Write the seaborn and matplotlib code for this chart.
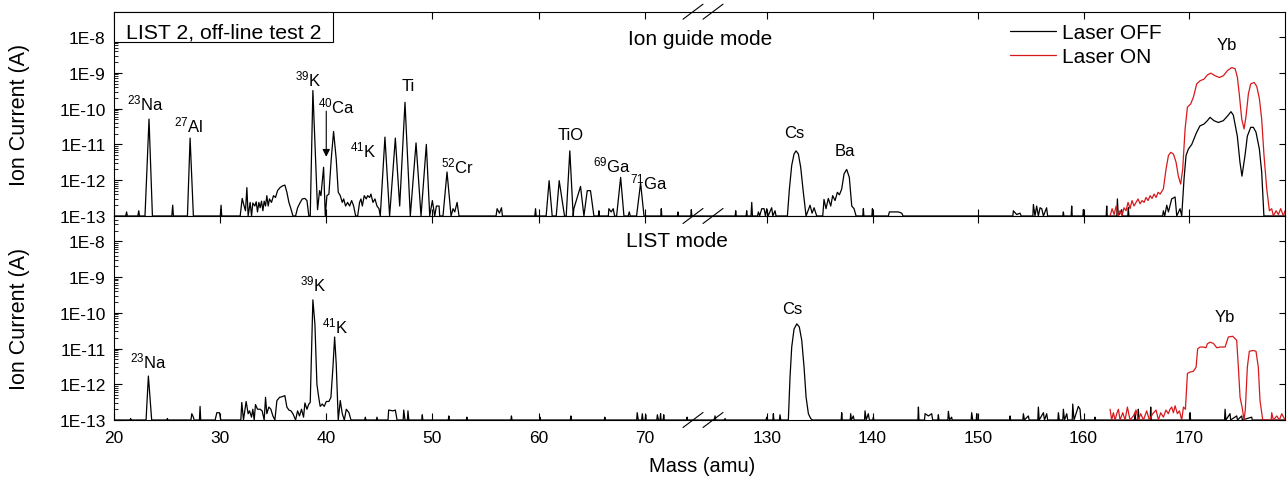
import numpy as np
import pandas as pd
import matplotlib
matplotlib.use("Agg")
import matplotlib.pyplot as plt
import seaborn as sns
from matplotlib.ticker import LogLocator, NullFormatter, NullLocator, FixedLocator, FuncFormatter
from matplotlib.lines import Line2D
from matplotlib.patches import Rectangle

# ---------------- data (mass in amu, ion current in A) ----------------
guide_off = [
    (20.0, 1e-13), (21.1, 1e-13), (21.19, 1.3e-13), (21.25, 1e-13),
    (22.25, 1e-13), (22.33, 1.4e-13), (22.4, 1e-13),
    (22.92, 1e-13), (23.30, 5.1e-11), (23.62, 1e-13),
    (25.45, 1e-13), (25.53, 2.0e-13), (25.6, 1e-13),
    (26.92, 1e-13), (27.17, 1.5e-11), (27.48, 1e-13),
    (30.02, 1e-13), (30.09, 2.0e-13), (30.15, 1e-13),
    (31.89, 1e-13), (32.08, 3.1e-13), (32.26, 1.9e-13), (32.39, 1.4e-13), (32.52, 6.2e-13),
    (32.64, 1e-13), (32.83, 2.4e-13), (32.96, 1e-13), (33.08, 2.3e-13), (33.27, 1.9e-13),
    (33.40, 2.5e-13), (33.52, 1.3e-13), (33.65, 2.4e-13), (33.77, 1.7e-13), (33.90, 2.6e-13),
    (34.03, 1.4e-13), (34.15, 2.6e-13), (34.28, 1.9e-13), (34.40, 3.7e-13), (34.53, 1.9e-13),
    (34.65, 3.0e-13), (34.84, 2.4e-13), (35.03, 3.7e-13), (35.22, 3.3e-13), (35.41, 5.1e-13),
    (35.66, 6.3e-13), (35.91, 7.0e-13), (36.10, 7.3e-13), (36.29, 4.6e-13), (36.48, 2.4e-13),
    (36.67, 1.6e-13), (36.86, 1e-13), (37.11, 1e-13), (37.30, 1.7e-13), (37.55, 2.4e-13),
    (37.74, 3.0e-13), (37.99, 3.1e-13), (38.18, 2.7e-13), (38.36, 1e-13), (38.49, 1e-13),
    (38.74, 3.2e-10), (39.18, 1.5e-13), (39.37, 5.1e-13), (39.50, 3.7e-13), (39.62, 8.7e-13),
    (39.75, 2.3e-12), (39.91, 1e-13), (40.06, 3.7e-13), (40.25, 4.1e-13), (40.47, 3.9e-12),
    (40.69, 2.3e-11), (40.94, 3.9e-12), (41.13, 4.6e-13), (41.32, 3.7e-13), (41.51, 2.4e-13),
    (41.64, 3.0e-13), (41.82, 1.9e-13), (42.01, 2.4e-13), (42.20, 1.9e-13), (42.39, 2.7e-13),
    (42.58, 1.9e-13), (42.77, 1e-13), (42.96, 1e-13), (43.14, 2.4e-13), (43.27, 3.0e-13),
    (43.40, 1.9e-13), (43.58, 3.7e-13), (43.77, 3.0e-13), (43.90, 3.7e-13), (44.09, 3.3e-13),
    (44.21, 4.1e-13), (44.40, 2.4e-13), (44.59, 3.0e-13), (44.78, 1.9e-13), (44.97, 1.6e-13),
    (45.09, 1e-13), (45.53, 1.6e-11), (45.97, 1e-13), (46.51, 1.5e-11), (46.92, 1.9e-13),
    (47.42, 1.5e-10), (47.92, 1e-13), (48.46, 1.1e-11), (48.93, 1e-13), (49.43, 1.0e-11),
    (49.75, 1e-13), (50.0, 2.7e-13), (50.22, 1e-13), (50.38, 1.9e-13), (50.63, 1.9e-13),
    (50.69, 1e-13), (51.0, 1e-13), (51.38, 1.7e-12), (51.76, 1e-13), (51.95, 1.6e-13),
    (52.11, 1.3e-13), (52.33, 2.4e-13), (52.51, 1e-13),
    (56.0, 1e-13), (56.10, 1.6e-13), (56.32, 1.2e-13), (56.51, 1.7e-13), (56.6, 1e-13),
    (59.65, 1e-13), (59.72, 1.6e-13), (59.78, 1e-13),
    (60.72, 1e-13), (61.0, 9.7e-13), (61.29, 1e-13), (61.67, 1e-13), (61.95, 9.7e-13),
    (62.45, 1e-13), (62.61, 1e-13), (62.95, 6.6e-12), (63.27, 1e-13), (63.33, 1.6e-13),
    (63.96, 6.7e-13), (64.28, 1e-13), (64.59, 5.1e-13), (64.90, 5.1e-13), (65.22, 1e-13),
    (65.64, 1e-13), (65.69, 1.4e-13), (65.74, 1e-13),
    (66.58, 1e-13), (66.63, 1.6e-13), (66.85, 1.3e-13), (67.04, 1.6e-13), (67.17, 1e-13),
    (67.36, 1e-13), (67.74, 1.2e-12), (68.05, 1e-13), (68.45, 1e-13), (68.55, 1.3e-13),
    (68.65, 1e-13), (69.24, 1e-13), (69.62, 8.4e-13), (69.94, 1e-13),
    (71.52, 1e-13), (71.57, 1.6e-13), (71.62, 1e-13),
    (73.09, 1e-13), (73.14, 1.3e-13), (73.19, 1e-13),
    (74.35, 1e-13), (74.40, 1.5e-13), (74.45, 1e-13),
    (126.98, 1e-13), (127.03, 1.4e-13), (127.08, 1e-13),
    (128.02, 1e-13), (128.07, 1.4e-13), (128.12, 1e-13), (128.48, 1e-13), (128.55, 2.4e-13),
    (128.62, 1e-13), (129.1, 1e-13), (129.18, 1.3e-13), (129.3, 1e-13), (129.5, 1.6e-13),
    (129.72, 1.6e-13), (129.85, 1e-13), (129.97, 1.6e-13), (130.1, 1e-13), (130.44, 1.7e-13),
    (130.55, 1e-13), (130.76, 1.4e-13), (130.85, 1e-13),
    (131.93, 1e-13), (132.12, 5.7e-13), (132.34, 2.6e-12), (132.56, 5.4e-12), (132.75, 6.6e-12),
    (132.97, 5.4e-12), (133.19, 2.3e-12), (133.44, 4.6e-13), (133.70, 1e-13),
    (134.08, 2.0e-13), (134.27, 1.2e-13), (134.46, 1.7e-13), (134.71, 1e-13),
    (135.28, 1e-13), (135.40, 2.9e-13), (135.59, 1.6e-13), (135.81, 3.1e-13), (136.04, 1.9e-13),
    (136.22, 3.7e-13), (136.45, 2.7e-13), (136.67, 4.6e-13), (136.86, 3.9e-13), (137.08, 5.7e-13),
    (137.30, 1.5e-12), (137.55, 2.0e-12), (137.80, 1.2e-12), (138.03, 1.9e-13), (138.25, 1.6e-13),
    (138.44, 1e-13),
    (139.08, 1e-13), (139.13, 1.6e-13), (139.18, 1e-13),
    (139.94, 1e-13), (139.99, 1.6e-13), (140.04, 1e-13),
    (141.5, 1e-13), (141.6, 1.3e-13), (141.98, 1.3e-13), (142.45, 1.3e-13), (142.77, 1.2e-13),
    (142.9, 1e-13),
    (153.3, 1e-13), (153.35, 1.4e-13), (153.67, 1.1e-13), (153.98, 1.2e-13), (154.1, 1e-13),
    (155.2, 1e-13), (155.25, 2.1e-13), (155.4, 1e-13), (155.56, 1.9e-13), (155.72, 1e-13),
    (155.88, 1.7e-13), (156.04, 1.6e-13), (156.2, 1e-13), (156.5, 1.7e-13), (156.6, 1e-13),
    (158.04, 1e-13), (158.09, 1.3e-13), (158.14, 1e-13), (158.83, 1e-13), (158.88, 1.9e-13),
    (158.93, 1e-13), (159.94, 1e-13), (159.99, 1.5e-13), (160.04, 1e-13),
    (162.15, 1e-13), (162.2, 1.9e-13), (162.25, 1e-13),
    (163.16, 1e-13), (163.21, 3.0e-13), (163.3, 1e-13), (163.62, 1.5e-13), (163.7, 1e-13),
    (164.2, 1e-13), (164.25, 1.7e-13), (164.3, 1e-13),
    (167.5, 1e-13), (167.57, 1.4e-13), (167.7, 1e-13), (167.89, 2.0e-13), (168.05, 1.3e-13),
    (168.36, 3.0e-13), (168.68, 3.4e-13), (168.84, 1e-13), (169.15, 1.6e-13), (169.31, 1e-13),
    (169.53, 1.1e-12), (169.72, 4.9e-12), (169.94, 7.4e-12), (170.26, 1.0e-11), (170.73, 2.2e-11),
    (171.04, 3.3e-11), (171.42, 3.7e-11), (171.74, 4.6e-11), (171.99, 5.7e-11), (172.37, 4.6e-11),
    (172.78, 4.1e-11), (173.25, 4.6e-11), (173.63, 6.1e-11), (173.98, 8.2e-11), (174.2, 6.6e-11),
    (174.58, 1.7e-11), (174.83, 3.2e-12), (175.02, 1.3e-12), (175.31, 4.9e-12), (175.53, 1.7e-11),
    (175.85, 3.0e-11), (176.1, 3.0e-11), (176.35, 2.2e-11), (176.67, 7.4e-12), (176.89, 1.7e-12),
    (177.1, 1e-13), (179.1, 1e-13),
]

guide_on = [
    (162.52, 1e-13), (162.71, 1.6e-13), (162.9, 1.1e-13), (163.09, 1.9e-13), (163.27, 1e-13),
    (163.46, 1.4e-13), (163.65, 1e-13), (163.84, 1.7e-13), (164.03, 1.4e-13), (164.22, 2.4e-13),
    (164.41, 1.6e-13), (164.6, 2.7e-13), (164.79, 1.9e-13), (164.98, 2.4e-13), (165.17, 3.0e-13),
    (165.36, 2.2e-13), (165.55, 2.7e-13), (165.74, 2.4e-13), (165.93, 3.3e-13), (166.12, 2.7e-13),
    (166.31, 3.7e-13), (166.5, 3.1e-13), (166.69, 4.1e-13), (166.88, 3.3e-13), (167.07, 4.6e-13),
    (167.26, 4.1e-13), (167.57, 5.7e-13), (167.82, 2.0e-12), (168.05, 4.9e-12), (168.27, 6.0e-12),
    (168.52, 5.4e-12), (168.77, 3.2e-12), (168.99, 1.3e-12), (169.21, 7.8e-13), (169.4, 2.0e-12),
    (169.63, 2.7e-11), (169.85, 1.1e-10), (170.16, 1.35e-10), (170.42, 2.1e-10), (170.73, 4.9e-10),
    (171.05, 6.0e-10), (171.43, 6.7e-10), (171.74, 8.7e-10), (172.06, 9.8e-10), (172.47, 8.3e-10),
    (172.88, 7.4e-10), (173.26, 8.3e-10), (173.64, 1.15e-9), (174.05, 1.4e-9), (174.37, 1.3e-9),
    (174.59, 7.4e-10), (174.78, 2.3e-10), (175.0, 5.1e-11), (175.22, 2.7e-11), (175.41, 6.3e-11),
    (175.63, 2.6e-10), (175.85, 4.9e-10), (176.17, 5.4e-10), (176.42, 4.2e-10), (176.67, 1.9e-10),
    (176.89, 5.1e-11), (177.11, 4.9e-12), (177.37, 5.7e-13), (177.62, 1.4e-13), (177.84, 1.6e-13),
    (178.0, 1e-13), (178.25, 1.4e-13), (178.47, 1.1e-13), (178.69, 1.6e-13), (178.95, 1e-13),
    (179.1, 1.4e-13),
]

list_off = [
    (20.0, 1e-13), (21.5, 1e-13), (21.57, 1.1e-13), (21.64, 1e-13),
    (23.02, 1e-13), (23.24, 1.7e-12), (23.55, 1e-13),
    (24.98, 1e-13), (25.03, 1.1e-13), (25.08, 1e-13),
    (27.25, 1e-13), (27.33, 1.5e-13), (27.48, 1.2e-13), (27.55, 1e-13),
    (28.05, 1e-13), (28.11, 2.4e-13), (28.17, 1e-13),
    (29.53, 1e-13), (29.69, 1.6e-13), (29.94, 1.6e-13), (30.06, 1e-13),
    (31.95, 1e-13), (32.04, 3.1e-13), (32.2, 1e-13), (32.45, 3.3e-13), (32.64, 1.5e-13),
    (32.77, 1.8e-13), (32.96, 1.2e-13), (33.08, 2.0e-13), (33.21, 1e-13), (33.33, 2.7e-13),
    (33.52, 2.0e-13), (33.77, 2.0e-13), (33.96, 1.8e-13), (34.15, 1e-13), (34.28, 4.3e-13),
    (34.40, 1.5e-13), (34.59, 2.3e-13), (34.78, 2.0e-13), (34.97, 1.3e-13), (35.16, 1e-13),
    (35.35, 3.5e-13), (35.60, 4.3e-13), (35.85, 4.5e-13), (36.10, 4.8e-13), (36.29, 2.3e-13),
    (36.48, 1.9e-13), (36.67, 1.8e-13), (36.86, 1.5e-13), (37.11, 1e-13), (37.30, 1.8e-13),
    (37.48, 1.3e-13), (37.67, 2.0e-13), (37.86, 1.2e-13), (37.99, 3.0e-13), (38.18, 2.0e-13),
    (38.36, 2.8e-13), (38.49, 3.1e-13), (38.74, 2.3e-10), (38.93, 4.9e-11), (39.12, 1.0e-12),
    (39.31, 3.9e-13), (39.43, 2.4e-13), (39.62, 2.8e-13), (39.81, 2.4e-13), (40.0, 3.3e-13),
    (40.25, 3.3e-13), (40.44, 4.3e-13), (40.63, 3.0e-12), (40.79, 2.1e-11), (40.94, 3.7e-12),
    (41.13, 1e-13), (41.32, 3.5e-13), (41.51, 1.5e-13), (41.70, 1e-13), (41.89, 2.0e-13),
    (42.14, 1.6e-13), (42.33, 1e-13),
    (43.62, 1e-13), (43.68, 1.2e-13), (43.74, 1e-13),
    (44.72, 1e-13), (44.78, 1.2e-13), (44.84, 1e-13),
    (45.82, 1e-13), (45.88, 1.9e-13), (46.29, 1.8e-13), (46.51, 1.9e-13), (46.67, 1e-13),
    (47.25, 1e-13), (47.30, 1.9e-13), (47.42, 1e-13), (47.65, 1e-13), (47.70, 1.8e-13),
    (47.78, 1e-13),
    (49.0, 1e-13), (49.05, 1.4e-13), (49.1, 1e-13), (51.5, 1e-13), (51.55, 1.3e-13),
    (51.6, 1e-13), (53.2, 1e-13), (53.25, 1.2e-13), (53.3, 1e-13), (57.4, 1e-13),
    (57.45, 1.3e-13), (57.5, 1e-13), (60.1, 1e-13), (60.15, 1.2e-13), (60.2, 1e-13),
    (63.0, 1e-13), (63.05, 1.3e-13), (63.1, 1e-13), (66.2, 1e-13), (66.25, 1.2e-13),
    (66.3, 1e-13),
    (69.25, 1e-13), (69.3, 1.6e-13), (69.4, 1e-13), (69.72, 1e-13), (69.78, 1.5e-13),
    (69.85, 1e-13), (70.05, 1e-13), (70.1, 1.4e-13), (70.15, 1e-13), (71.15, 1e-13),
    (71.2, 1.4e-13), (71.3, 1e-13), (71.45, 1e-13), (71.5, 1.5e-13), (71.55, 1e-13),
    (71.75, 1e-13), (71.8, 1.4e-13), (71.85, 1e-13), (73.95, 1e-13), (74.0, 1.2e-13),
    (74.05, 1e-13),
    (125.0, 1e-13), (125.07, 1.3e-13), (125.14, 1e-13), (125.95, 1e-13), (126.02, 1.1e-13),
    (126.1, 1e-13), (129.9, 1e-13), (129.97, 1.2e-13), (130.04, 1e-13), (130.55, 1e-13),
    (130.6, 1.5e-13), (130.65, 1e-13), (131.18, 1e-13), (131.23, 1.4e-13), (131.3, 1e-13),
    (132.02, 1e-13), (132.18, 1.6e-12), (132.34, 1.1e-11), (132.56, 3.5e-11), (132.82, 4.9e-11),
    (133.06, 4.0e-11), (133.29, 1.7e-11), (133.51, 3.0e-12), (133.70, 4.4e-13), (133.92, 1.5e-13),
    (134.14, 1.1e-13), (134.3, 1e-13),
    (137.03, 1e-13), (137.08, 1.6e-13), (137.13, 1e-13), (137.88, 1e-13), (137.93, 1.5e-13),
    (138.0, 1e-13), (138.18, 1.3e-13), (138.25, 1e-13), (139.24, 1e-13), (139.29, 1.8e-13),
    (139.4, 1e-13), (139.6, 1.5e-13), (139.7, 1e-13), (140.03, 1e-13), (140.08, 1.2e-13),
    (140.13, 1e-13),
    (144.3, 1e-13), (144.35, 2.3e-13), (144.4, 1e-13), (144.93, 1e-13), (144.98, 1.5e-13),
    (145.3, 1.3e-13), (145.61, 1.5e-13), (145.7, 1e-13), (146.19, 1e-13), (146.24, 1.4e-13),
    (146.3, 1e-13), (147.14, 1e-13), (147.19, 1.75e-13), (147.3, 1e-13), (147.5, 1.2e-13),
    (147.55, 1e-13), (149.35, 1e-13), (149.4, 1.6e-13), (149.5, 1e-13), (149.83, 1e-13),
    (149.88, 1.5e-13), (149.93, 1e-13),
    (152.99, 1e-13), (153.04, 1.3e-13), (153.09, 1e-13), (154.25, 1e-13), (154.3, 1.5e-13),
    (154.4, 1e-13), (154.77, 1.3e-13), (154.85, 1e-13), (155.67, 1e-13), (155.72, 2.3e-13),
    (155.8, 1e-13), (156.2, 1.6e-13), (156.3, 1e-13), (156.51, 1.5e-13), (156.6, 1e-13),
    (157.57, 1e-13), (157.62, 1.6e-13), (157.7, 1e-13), (158.04, 1e-13), (158.09, 2.0e-13),
    (158.2, 1e-13), (158.41, 1.5e-13), (158.5, 1e-13), (158.93, 1e-13), (158.98, 2.8e-13),
    (159.1, 1e-13), (159.51, 2.4e-13), (159.67, 2.0e-13), (159.75, 1e-13), (161.04, 1e-13),
    (161.09, 1.2e-13), (161.14, 1e-13),
    (164.83, 1e-13), (164.88, 1.6e-13), (164.95, 1e-13), (165.15, 1e-13), (165.2, 2.0e-13),
    (165.25, 1e-13), (166.32, 1e-13), (166.37, 2.3e-13), (166.42, 1e-13), (170.05, 1e-13),
    (170.1, 1.6e-13), (170.15, 1e-13), (173.37, 1e-13), (173.42, 2.0e-13), (173.5, 1e-13),
    (173.89, 1.5e-13), (173.95, 1e-13), (174.52, 1.3e-13), (174.6, 1e-13), (175.0, 1.3e-13),
    (175.05, 1e-13), (175.94, 1.2e-13), (176.0, 1e-13), (179.1, 1e-13),
]

list_on = [
    (162.52, 2.0e-13), (162.67, 1e-13), (162.83, 1.6e-13), (162.99, 1e-13), (163.15, 1.5e-13),
    (163.31, 2.0e-13), (163.46, 1e-13), (163.72, 1.6e-13), (163.94, 1e-13), (164.16, 2.3e-13),
    (164.41, 1e-13), (164.73, 1.3e-13), (164.98, 1.9e-13), (165.2, 1e-13), (165.42, 1.5e-13),
    (165.68, 1e-13), (165.99, 1.8e-13), (166.24, 1e-13), (166.56, 1.5e-13), (166.88, 1.9e-13),
    (167.1, 1e-13), (167.32, 1.6e-13), (167.57, 1.2e-13), (167.82, 1.9e-13), (168.04, 1.5e-13),
    (168.2, 2.0e-13), (168.36, 2.3e-13), (168.52, 1.6e-13), (168.68, 2.5e-13), (168.9, 1.5e-13),
    (169.09, 1.8e-13), (169.31, 1e-13), (169.47, 2.3e-13), (169.66, 2.0e-13), (169.85, 2.0e-12),
    (170.1, 2.2e-12), (170.41, 2.3e-12), (170.67, 3.0e-12), (170.82, 9.8e-12), (171.05, 1.1e-11),
    (171.36, 1.1e-11), (171.61, 1.05e-11), (171.74, 1.35e-11), (171.99, 1.5e-11), (172.31, 1.4e-11),
    (172.63, 1.05e-11), (172.94, 1.1e-11), (173.42, 1.1e-11), (173.73, 2.1e-11), (174.14, 2.2e-11),
    (174.52, 1.7e-11), (174.68, 3.0e-12), (174.84, 4.3e-13), (175.03, 2.3e-13), (175.22, 1e-13),
    (175.34, 2.0e-13), (175.53, 3.0e-12), (175.72, 8.4e-12), (176.1, 8.8e-12), (176.35, 8.4e-12),
    (176.57, 3.0e-12), (176.73, 3.5e-13), (176.99, 1e-13), (177.79, 1e-13), (177.84, 1.6e-13),
    (178.0, 1e-13), (178.32, 1.3e-13), (178.57, 1e-13), (178.79, 1.5e-13), (179.1, 1e-13),
]

left_ticks = [20, 30, 40, 50, 60, 70]
right_ticks = [130, 140, 150, 160, 170]
left_range = (20.0, 75.5)
right_range = (123.93, 179.1)
y_range = (1e-13, 5.1e-8)
y_ticks = [1e-13, 1e-12, 1e-11, 1e-10, 1e-9, 1e-8]
series_labels = ["Laser OFF", "Laser ON"]

guide_labels_left = [
    ("$^{23}$Na", 23.0, 1.5e-10), ("$^{27}$Al", 27.0, 3.7e-11), ("$^{39}$K", 38.3, 7.1e-10),
    ("$^{40}$Ca", 41.0, 1.2e-10), ("$^{41}$K", 43.5, 7.4e-12), ("Ti", 47.7, 4.3e-10),
    ("$^{52}$Cr", 52.4, 2.6e-12), ("TiO", 63.0, 1.95e-11), ("$^{69}$Ga", 66.9, 2.8e-12),
    ("$^{71}$Ga", 70.4, 9.5e-13),
]
guide_labels_right = [("Cs", 132.56, 2.2e-11), ("Ba", 137.4, 6.6e-12), ("Yb", 173.6, 6.0e-9)]
list_labels_left = [("$^{23}$Na", 23.2, 4.6e-12), ("$^{39}$K", 38.8, 6.5e-10), ("$^{41}$K", 40.85, 4.3e-11)]
list_labels_right = [("Cs", 132.4, 1.3e-10), ("Yb", 173.4, 7.8e-11)]

# ---------------- style ----------------
sns.set_style("ticks")
plt.rcParams["font.family"] = ["Liberation Sans", "DejaVu Sans"]
plt.rcParams["mathtext.fontset"] = "custom"
plt.rcParams["mathtext.rm"] = "Liberation Sans"
plt.rcParams["mathtext.default"] = "regular"
for key in ("text.color", "axes.labelcolor", "xtick.color", "ytick.color", "axes.edgecolor"):
    plt.rcParams[key] = "black"

RED = "#d7191c"
W, H = 1287, 481
fig = plt.figure(figsize=(W / 100, H / 100), dpi=100)


def fx(px):
    return px / W


def fy(py):
    return 1 - py / H


X0, XS, X1 = 114, 703, 1285
ROWS = [(12.7, 217.0), (217.0, 421.0)]


def draw(ax, pts, color):
    df = pd.DataFrame(pts, columns=["mass", "current"])
    sns.lineplot(data=df, x="mass", y="current", ax=ax, color=color, linewidth=0.9,
                 estimator=None, sort=False, legend=False)


def style_axis(ax, side, bottom_labels):
    ax.set_yscale("log")
    ax.set_ylim(*y_range)
    ax.set_xlabel("")
    ax.set_ylabel("")
    for s in ax.spines.values():
        s.set_linewidth(0.8)
        s.set_color("black")
    ax.tick_params(axis="x", which="both", direction="in", top=True, bottom=True,
                   length=5, width=0.8, labelsize=12.5, pad=7, labelbottom=bottom_labels,
                   colors="black")
    ax.yaxis.set_major_locator(FixedLocator(y_ticks))
    if side == "left":
        ax.spines["right"].set_visible(False)
        ax.set_xlim(*left_range)
        ax.set_xticks(left_ticks)
        ax.yaxis.set_minor_locator(LogLocator(base=10, subs=np.arange(2, 10)))
        ax.yaxis.set_minor_formatter(NullFormatter())
        ax.yaxis.set_major_formatter(FuncFormatter(lambda v, p: f"1E{int(round(np.log10(v)))}"))
        ax.tick_params(axis="y", which="major", direction="in", left=True, right=False,
                       length=6, width=0.8, labelsize=12.5, pad=6, colors="black")
        ax.tick_params(axis="y", which="minor", direction="in", left=True, right=False,
                       length=3, width=0.6, colors="black")
    else:
        ax.spines["left"].set_visible(False)
        ax.set_xlim(*right_range)
        ax.set_xticks(right_ticks)
        ax.yaxis.set_minor_locator(NullLocator())
        ax.yaxis.set_ticks_position("right")
        ax.tick_params(axis="y", which="major", direction="in", left=False, right=True,
                       labelleft=False, labelright=False, length=4, width=0.8, colors="black")


axes = {}
for r, (ytop, ybot) in enumerate(ROWS):
    h = (ybot - ytop) / H
    axl = fig.add_axes([fx(X0), fy(ybot), (XS - X0) / W, h])
    axr = fig.add_axes([fx(XS), fy(ybot), (X1 - XS) / W, h])
    axes[r] = (axl, axr)

for r, (off, on) in enumerate([(guide_off, guide_on), (list_off, list_on)]):
    axl, axr = axes[r]
    for ax in (axl, axr):
        draw(ax, off, "black")
        draw(ax, on, RED)
    style_axis(axl, "left", r == 1)
    style_axis(axr, "right", r == 1)

# peak labels
for (axl, axr), (ll, rl) in zip([axes[0], axes[1]],
                                [(guide_labels_left, guide_labels_right),
                                 (list_labels_left, list_labels_right)]):
    for t, m, v in ll:
        axl.text(m, v, t, ha="center", va="center", fontsize=12, color="black")
    for t, m, v in rl:
        axr.text(m, v, t, ha="center", va="center", fontsize=12, color="black")

axes[0][0].annotate("", xy=(40.0, 4.5e-12), xytext=(40.0, 8.5e-11),
                    arrowprops=dict(arrowstyle="-|>", color="black", lw=0.8,
                                    mutation_scale=11, shrinkA=0, shrinkB=0))

# axis break marks
for py in (12.7, 217.0, 421.0):
    for x0 in (683, 703):
        fig.add_artist(Line2D([fx(x0), fx(x0 + 20)], [fy(py + 7.5), fy(py - 7.5)],
                              color="black", lw=0.8))

# titles & labels
fig.add_artist(Rectangle((fx(114), fy(43)), 219 / W, 30.3 / H, transform=fig.transFigure,
                         facecolor="white", edgecolor="black", lw=0.8, zorder=5))
fig.text(fx(224), fy(38.5), "LIST 2, off-line test 2", ha="center", va="baseline",
         fontsize=15.3, zorder=6, color="black")
fig.text(fx(700), fy(45), "Ion guide mode", ha="center", va="baseline", fontsize=15, color="black")
fig.text(fx(677), fy(247), "LIST mode", ha="center", va="baseline", fontsize=15, color="black")
for ytop, ybot in ROWS:
    fig.text(fx(20), fy((ytop + ybot) / 2), "Ion Current (A)", rotation=90,
             ha="center", va="center", fontsize=15.5, color="black")
fig.text(fx(702), fy(466), "Mass (amu)", ha="center", va="center", fontsize=14.5, color="black")

handles = [Line2D([], [], color="black", lw=0.9), Line2D([], [], color=RED, lw=0.9)]
leg = fig.legend(handles, series_labels, loc="upper left", bbox_to_anchor=(fx(1010), fy(24)),
                 frameon=False, fontsize=15, handlelength=2.2, handletextpad=0.3,
                 labelspacing=0.25, borderpad=0, borderaxespad=0)
for t in leg.get_texts():
    t.set_color("black")

fig.savefig("out.png", dpi=100)
